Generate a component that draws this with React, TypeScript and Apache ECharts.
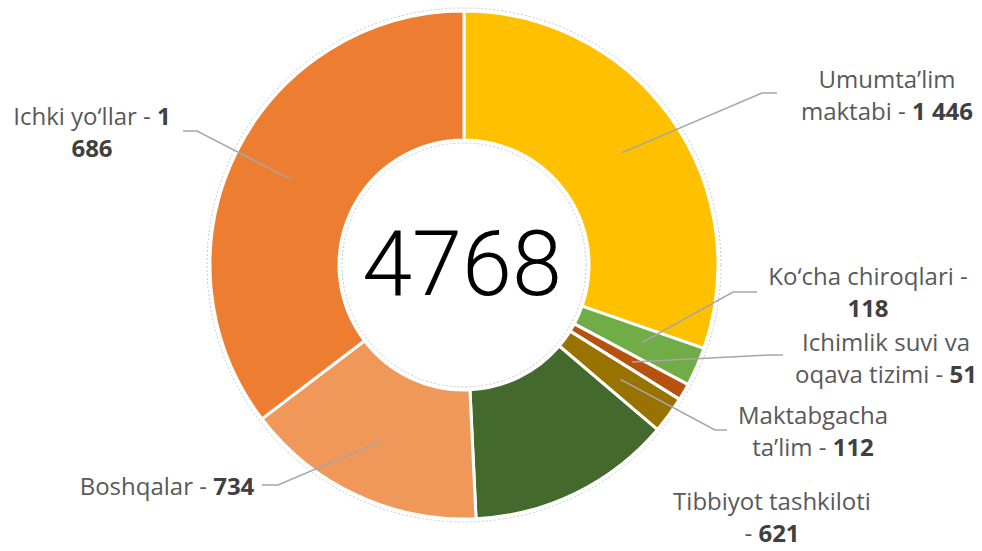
import React, { useEffect, useRef } from "react";
import * as echarts from "echarts";

// ---- data ----
const categories = [
  "Umumta’lim maktabi",
  "Ko‘cha chiroqlari",
  "Ichimlik suvi va oqava tizimi",
  "Maktabgacha ta’lim",
  "Tibbiyot tashkiloti",
  "Boshqalar",
  "Ichki yo‘llar",
];
const values = [1446, 118, 51, 112, 621, 734, 1686];
const colors = ["#FFC000", "#70AD47", "#B5520F", "#997300", "#436A2C", "#F0985A", "#ED7D31"];

// ---- layout ----
const CENTER: [number, number] = [464, 265];
const R_IN = 125;
const R_OUT = 254;
const R_LINE = 194;
const LABEL_BREAK = [1, 3, 3, 1, 2, 99, 4];
const LABEL_POS: [number, number][] = [
  [887, 94],
  [868, 291],
  [886, 357],
  [813, 430],
  [772, 516],
  [167, 485],
  [92, 131],
];
const LINE_TAIL: ([number, number][] | null)[] = [
  [[762, 93], [777, 93]],
  [[733, 292], [757, 292]],
  [[770, 355], [783, 355]],
  [[715, 430], [727, 430]],
  null,
  [[278, 485], [262, 485]],
  [[197, 131], [183, 131]],
];

const FONT = "'Open Sans', 'Noto Sans', sans-serif";

function fmt(v: number): string {
  if (v >= 1000) return `${Math.floor(v / 1000)} ${String(v % 1000).padStart(3, "0")}`;
  return String(v);
}

function labelText(i: number): string {
  const tokens = [
    ...categories[i].split(" ").map((t) => ({ t, s: "n" })),
    { t: "-", s: "n" },
    ...fmt(values[i]).split(" ").map((t) => ({ t, s: "v" })),
  ];
  const brk = LABEL_BREAK[i];
  const lines = [tokens.slice(0, brk), tokens.slice(brk)].filter((l) => l.length);
  return lines
    .map((line) => {
      let out = "";
      let cur: string | null = null;
      let buf = "";
      line.forEach((tk, j) => {
        const txt = (j > 0 ? " " : "") + tk.t;
        if (cur === null) {
          cur = tk.s;
          buf = txt;
        } else if (tk.s === cur) {
          buf += txt;
        } else {
          out += `{${cur}|${buf}}`;
          cur = tk.s;
          buf = txt;
        }
      });
      out += `{${cur}|${buf}}`;
      return out;
    })
    .join("\n");
}

const total = values.reduce((a, b) => a + b, 0);

function midPoint(i: number, r: number): [number, number] {
  let before = 0;
  for (let k = 0; k < i; k++) before += values[k];
  const frac = (before + values[i] / 2) / total;
  const ang = frac * Math.PI * 2; // clockwise from top
  return [CENTER[0] + r * Math.sin(ang), CENTER[1] - r * Math.cos(ang)];
}

export default function App() {
  const ref = useRef<HTMLDivElement>(null);
  useEffect(() => {
    document.body.style.margin = "0";
    const chart = echarts.init(ref.current!, null, { renderer: "svg" });
    const leaderLines: any[] = [];
    LINE_TAIL.forEach((tail, i) => {
      if (!tail) return;
      leaderLines.push({
        type: "polyline",
        silent: true,
        z: 20,
        shape: { points: [midPoint(i, R_LINE), tail[0], tail[1]] },
        style: { fill: "none", stroke: "#a6a6a6", lineWidth: 1.5 },
      });
    });
    chart.setOption({
      animation: false,
      backgroundColor: "#ffffff",
      graphic: [
        {
          type: "circle",
          shape: { cx: CENTER[0], cy: CENTER[1], r: R_OUT + 3 },
          style: { fill: "none", stroke: "#c9c9c9", lineWidth: 1, lineDash: [2, 2] },
          silent: true,
          z: 0,
        },
        {
          type: "circle",
          shape: { cx: CENTER[0], cy: CENTER[1], r: R_IN - 3 },
          style: { fill: "none", stroke: "#c9c9c9", lineWidth: 1, lineDash: [2, 2] },
          silent: true,
          z: 0,
        },
        {
          type: "text",
          x: CENTER[0] - 2,
          y: CENTER[1] - 1,
          silent: true,
          style: {
            text: String(total),
            align: "center",
            verticalAlign: "middle",
            fontSize: 90,
            fontFamily: "Roboto, 'DejaVu Sans', sans-serif",
            fontWeight: 300,
            fill: "#000000",
          },
          z: 10,
        },
        ...leaderLines,
      ],
      series: [
        {
          type: "pie",
          center: CENTER,
          radius: [R_IN, R_OUT],
          startAngle: 90,
          clockwise: true,
          avoidLabelOverlap: false,
          emphasis: { disabled: true },
          itemStyle: { borderColor: "#ffffff", borderWidth: 3 },
          label: {
            show: true,
            position: "outside",
            formatter: (p: any) => labelText(p.dataIndex),
            rich: {
              n: { fontFamily: FONT, fontSize: 24, color: "#595959", lineHeight: 32 },
              v: { fontFamily: FONT, fontSize: 24, color: "#404040", fontWeight: "bold", lineHeight: 32 },
            },
          },
          labelLine: { show: false },
          labelLayout: (params: any) => {
            const p = LABEL_POS[params.dataIndex];
            return { x: p[0], y: p[1], align: "center", verticalAlign: "middle" };
          },
          data: values.map((v, i) => ({
            value: v,
            name: categories[i],
            itemStyle: { color: colors[i] },
          })),
        },
      ],
    });
    return () => chart.dispose();
  }, []);
  return <div ref={ref} style={{ width: 982, height: 551 }} />;
}
